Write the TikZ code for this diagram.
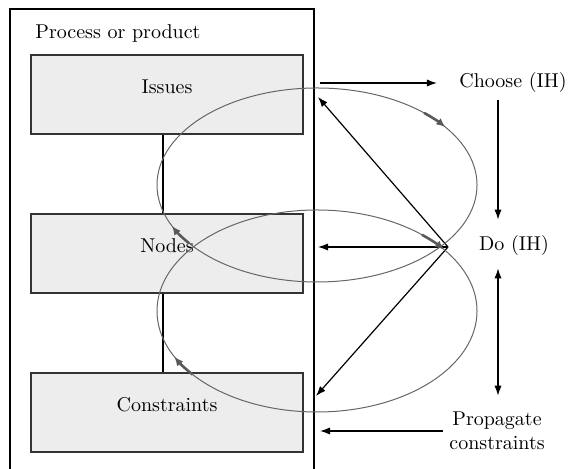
\documentclass[tikz,border=0pt]{standalone}
\usetikzlibrary{arrows.meta}
\begin{document}
\begin{tikzpicture}[x=0.5pt, y=0.5pt,
    >={Latex[length=5pt,width=3.6pt]},
    part/.style={draw=black!80, fill=black!7, line width=0.6pt, minimum width=136pt, minimum height=39.5pt, text height=7pt, text depth=8pt},
    word/.style={inner sep=0pt, align=center},
    arr/.style={->, line width=0.6pt},
    link/.style={line width=1pt},
    loop/.style={draw=black!60, line width=0.5pt},
    looptip/.style={-{Latex[length=4.5pt,width=4pt]}, draw=black!65, line width=1.3pt}]
  \useasboundingbox (0,0) rectangle (571,469);

  % Process or product
  \draw[line width=1pt] (10,-5) -- (10,460) -- (314,460) -- (314,-5);
  \coordinate (wall) at (314,0);
  \node[word, anchor=west] (title) at (35,435) {Process or product};
  \node[part] (issues) at (167,374.5) {Issues};
  \node[part] (nodes) at (167,215.5) {Nodes};
  \node[part] (cons) at (167,56.5) {Constraints};
  \draw[link] ([xshift=-2pt]issues.south) -- ([xshift=-2pt]nodes.north);
  \draw[link] ([xshift=-2pt]nodes.south) -- ([xshift=-2pt]cons.north);

  % Steps
  \node[word] (choose) at (513,386) {Choose (IH)};
  \node[word] (do) at (514,223) {Do (IH)};
  \node[word] (prop) at (497,38) {Propagate\\constraints};
  \coordinate (col) at (498,0);
  \draw[arr, shorten <=3pt] (choose -| wall) -- ([xshift=-11pt]choose.west);
  \draw[arr, shorten <=3.5pt, shorten >=8pt] (choose.south -| col) -- (do.north -| col);
  \draw[<->, line width=0.6pt, shorten <=6pt, shorten >=8pt] (do.south -| col) -- (prop.north -| col);
  \draw[arr, shorten <=3pt, shorten >=3pt] (prop.west) -- (prop -| wall);

  % Do fans out to the levels
  \coordinate (hub) at (448,222);
  \coordinate (toI) at (318,372);
  \coordinate (toN) at (318,222);
  \coordinate (toC) at (316,73);
  \draw[arr] (hub) -- (toI);
  \draw[arr] (hub) -- (toN);
  \draw[arr] (hub) -- (toC);

  % Cycles
  \coordinate (up) at (317,284);
  \coordinate (lo) at (317,158);
  \draw[loop] (up) ellipse[x radius=160, y radius=97];
  \draw[loop] (lo) ellipse[x radius=160, y radius=101];
  \draw[looptip] (up) ++(48:160 and 97) arc[start angle=48, end angle=36.7, x radius=160, y radius=97];
  \draw[looptip] (up) ++(-143:160 and 97) arc[start angle=-143, end angle=-155, x radius=160, y radius=97];
  \draw[looptip] (lo) ++(49:160 and 101) arc[start angle=49, end angle=37.5, x radius=160, y radius=101];
  \draw[looptip] (lo) ++(-141:160 and 101) arc[start angle=-141, end angle=-153, x radius=160, y radius=101];
\end{tikzpicture}
\end{document}
